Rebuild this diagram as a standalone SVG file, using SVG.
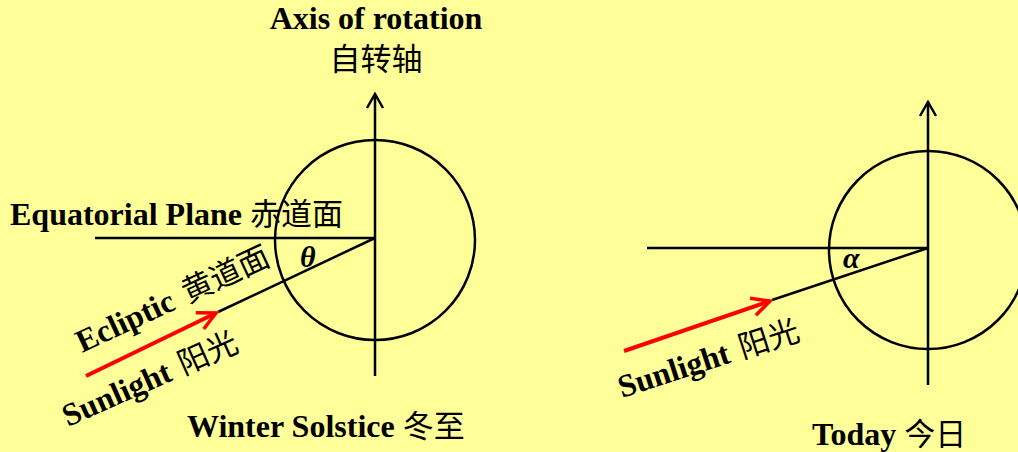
<svg xmlns="http://www.w3.org/2000/svg" width="1018" height="452" viewBox="0 0 1018 452">
<defs>
<style>
.bg{fill:#FFFF99}
.ln{stroke:#000;stroke-width:2.5;fill:none}
.red{stroke:#FF0000;stroke-width:4;fill:none}
.t{font-family:"Liberation Serif","Noto Sans CJK SC",serif;font-weight:bold;font-size:32px;fill:#000}
.c{font-family:"Noto Sans CJK SC",sans-serif;font-weight:normal;font-size:31px;fill:#000}
.g{font-family:"Liberation Serif",serif;font-weight:bold;font-style:italic;font-size:30px;fill:#000}
</style>
<marker id="ah" viewBox="0 0 20 20" refX="18" refY="10" markerWidth="20" markerHeight="20" markerUnits="userSpaceOnUse" orient="auto">
<path d="M4,2 L18,10 L4,18" stroke="#000" stroke-width="2.5" fill="none"/>
</marker>
<marker id="rah" viewBox="0 0 24 24" refX="21" refY="12" markerWidth="24" markerHeight="24" markerUnits="userSpaceOnUse" orient="auto">
<path d="M3,3 L21,12 L3,21" stroke="#FF0000" stroke-width="3.5" fill="none"/>
</marker>
</defs>
<rect class="bg" x="0" y="0" width="1018" height="452"/>

<g id="connectors">
<line class="ln" x1="375" y1="376" x2="375" y2="94" marker-end="url(#ah)"/>
<line class="ln" x1="95" y1="238" x2="375" y2="238"/>
<line class="ln" x1="375" y1="238" x2="218" y2="312"/>
<line class="red" x1="86" y1="376" x2="216" y2="313" marker-end="url(#rah)"/>
<line class="ln" x1="928" y1="385" x2="928" y2="102" marker-end="url(#ah)"/>
<line class="ln" x1="647" y1="248" x2="928" y2="248"/>
<line class="ln" x1="928" y1="248" x2="772" y2="300"/>
<line class="red" x1="624" y1="351" x2="770" y2="301" marker-end="url(#rah)"/>
</g>

<g id="earth-winter">
<circle class="ln" cx="375" cy="240" r="100"/>
</g>
<g id="earth-today">
<circle class="ln" cx="928" cy="250" r="99"/>
</g>

<g id="axis-label">
<text class="t" x="376" y="29" text-anchor="middle">Axis of rotation</text>
<text class="c" x="376" y="70" text-anchor="middle">自转轴</text>
</g>
<g id="equatorial-label">
<text class="t" x="10" y="225">Equatorial Plane <tspan class="c">赤道面</tspan></text>
</g>
<g id="theta-label">
<text class="g" x="300" y="267">θ</text>
</g>
<g id="ecliptic-label">
<text class="t" x="82" y="353" transform="rotate(-25 82 353)">Ecliptic <tspan class="c" dx="4">黄道面</tspan></text>
</g>
<g id="sunlight-left">
<text class="t" x="68" y="427" transform="rotate(-24 68 427)">Sunlight <tspan class="c" dx="3">阳光</tspan></text>
</g>
<g id="winter-label">
<text class="t" x="187" y="437">Winter Solstice <tspan class="c">冬至</tspan></text>
</g>
<g id="alpha-label">
<text class="g" x="843" y="268">α</text>
</g>
<g id="sunlight-right">
<text class="t" x="622" y="398" transform="rotate(-18 622 398)">Sunlight <tspan class="c" dx="3">阳光</tspan></text>
</g>
<g id="today-label">
<text class="t" x="812" y="445">Today <tspan class="c">今日</tspan></text>
</g>
</svg>
